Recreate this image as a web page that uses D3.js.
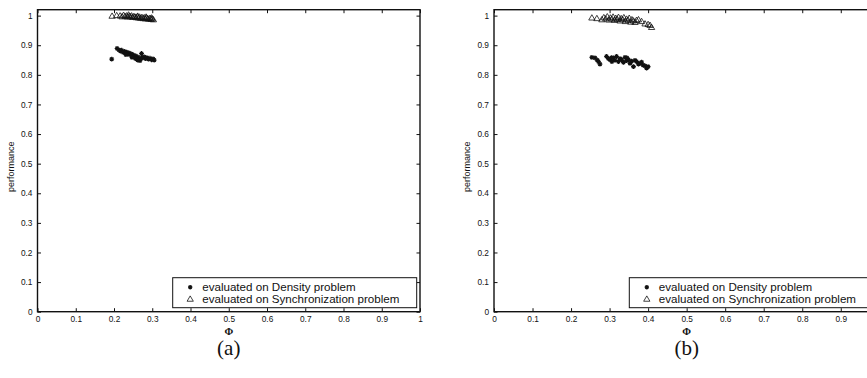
<!DOCTYPE html>
<html>
<head>
<meta charset="utf-8">
<script src="https://cdn.jsdelivr.net/npm/d3@7"></script>
<style>
  html, body { margin: 0; padding: 0; background: #fff; }
  svg { display: block; }
</style>
</head>
<body>
<svg id="chart" width="867" height="378"></svg>
<script>
// Φ vs performance, panel (a)
const densityA = [
  [0.194,0.853],[0.208,0.889],[0.213,0.884],[0.217,0.880],[0.220,0.883],[0.224,0.876],
  [0.227,0.879],[0.230,0.873],[0.233,0.877],[0.236,0.870],[0.239,0.874],[0.242,0.868],
  [0.245,0.871],[0.248,0.864],[0.251,0.867],[0.254,0.861],[0.257,0.864],[0.260,0.857],
  [0.263,0.860],[0.266,0.852],[0.268,0.848],[0.272,0.872],[0.275,0.858],[0.279,0.861],
  [0.282,0.855],[0.286,0.858],[0.290,0.853],[0.294,0.856],[0.298,0.851],[0.302,0.854],
  [0.305,0.850],[0.256,0.855],[0.262,0.850],[0.231,0.868],[0.247,0.859],[0.270,0.856]
];
const syncA = [
  [0.195,0.998],[0.207,1.000],[0.216,0.999],[0.221,0.996],[0.225,1.001],[0.229,0.997],
  [0.233,0.999],[0.236,0.995],[0.240,0.998],[0.243,0.996],[0.246,0.999],[0.249,0.994],
  [0.252,0.997],[0.255,0.995],[0.258,0.993],[0.261,0.996],[0.264,0.992],[0.267,0.995],
  [0.270,0.991],[0.273,0.994],[0.276,0.990],[0.279,0.993],[0.282,0.989],[0.285,0.992],
  [0.288,0.990],[0.291,0.988],[0.294,0.991],[0.297,0.987],[0.300,0.989],[0.303,0.986],
  [0.238,1.002],[0.262,0.998],[0.284,0.995],[0.298,0.992]
];

// Φ vs performance, panel (b)
const densityB = [
  [0.254,0.859],[0.262,0.857],[0.268,0.850],[0.271,0.845],[0.275,0.836],[0.292,0.862],
  [0.297,0.855],[0.301,0.851],[0.305,0.858],[0.310,0.857],[0.314,0.849],[0.318,0.862],
  [0.323,0.845],[0.327,0.855],[0.331,0.851],[0.336,0.842],[0.340,0.859],[0.344,0.848],
  [0.349,0.851],[0.353,0.839],[0.357,0.846],[0.362,0.828],[0.366,0.849],[0.370,0.845],
  [0.375,0.836],[0.379,0.839],[0.383,0.843],[0.387,0.833],[0.392,0.830],[0.396,0.823],
  [0.400,0.828],[0.345,0.857],[0.306,0.845]
];
const syncB = [
  [0.254,0.992],[0.267,0.990],[0.280,0.986],[0.285,0.993],[0.290,0.989],[0.294,0.996],
  [0.298,0.985],[0.302,0.992],[0.306,0.988],[0.309,0.995],[0.313,0.984],[0.316,0.991],
  [0.320,0.987],[0.323,0.994],[0.327,0.982],[0.330,0.990],[0.334,0.986],[0.337,0.993],
  [0.341,0.980],[0.344,0.988],[0.348,0.984],[0.351,0.991],[0.355,0.978],[0.358,0.986],
  [0.362,0.982],[0.366,0.977],[0.370,0.984],[0.375,0.986],[0.383,0.980],[0.392,0.972],
  [0.400,0.970],[0.405,0.967],[0.409,0.960]
];

const xTicks = [0, 0.1, 0.2, 0.3, 0.4, 0.5, 0.6, 0.7, 0.8, 0.9, 1];
const yTicks = [0, 0.1, 0.2, 0.3, 0.4, 0.5, 0.6, 0.7, 0.8, 0.9, 1];
const legendLabels = ["evaluated on Density problem", "evaluated on Synchronization problem"];
const xLabel = "Φ";
const yLabel = "performance";
const captions = ["(a)", "(b)"];

const W = 867;
const svg = d3.select("#chart");
const SANS = "'Liberation Sans', Arial, Helvetica, sans-serif";
const SERIF = "'Liberation Serif', 'Times New Roman', serif";
const INK = "#111";

// MATLAB-style '*' marker
const starPath = (r) => {
  let p = "";
  for (let k = 0; k < 4; k++) {
    const a = k * Math.PI / 4;
    const dx = r * Math.cos(a), dy = r * Math.sin(a);
    p += `M${-dx},${-dy}L${dx},${dy}`;
  }
  return p;
};
const triPath = (r) => `M0,${-r}L${r * 0.95},${r * 0.62}L${-r * 0.95},${r * 0.62}Z`;

function drawPanel(cfg) {
  const x = d3.scaleLinear().domain([0, 1]).range([cfg.left, cfg.right]);
  const y = d3.scaleLinear().domain([0, 1.02]).range([cfg.bottom, cfg.top]);
  const g = svg.append("g");

  // tick marks pointing inward on all four sides
  const tl = 3.5;
  const axB = d3.axisBottom(x).tickValues(xTicks).tickSize(-tl).tickFormat(d => d3.format("")(d));
  const axT = d3.axisTop(x).tickValues(xTicks).tickSize(-tl).tickFormat("");
  const axL = d3.axisLeft(y).tickValues(yTicks).tickSize(-tl).tickFormat(d => d3.format("")(d));
  const axR = d3.axisRight(y).tickValues(yTicks).tickSize(-tl).tickFormat("");

  const styleAxis = (sel) => {
    sel.select(".domain").remove();
    sel.selectAll(".tick line").attr("stroke", INK).attr("stroke-width", 1);
    sel.selectAll(".tick text").attr("font-family", SANS).attr("font-size", 8.3).attr("fill", INK);
  };
  const gb = g.append("g").attr("transform", `translate(0,${cfg.bottom})`).call(axB);
  styleAxis(gb);
  gb.selectAll(".tick text").attr("y", 4).attr("dy", "0.71em");
  // labels whose tick lies past the page edge are not drawn
  gb.selectAll(".tick").filter(d => x(d) > W).select("text").remove();
  const gt = g.append("g").attr("transform", `translate(0,${cfg.top})`).call(axT);
  styleAxis(gt);
  const gl = g.append("g").attr("transform", `translate(${cfg.left},0)`).call(axL);
  styleAxis(gl);
  gl.selectAll(".tick text").attr("x", -5);
  const gr = g.append("g").attr("transform", `translate(${cfg.right},0)`).call(axR);
  styleAxis(gr);

  // box
  g.append("rect")
    .attr("x", cfg.left).attr("y", cfg.top)
    .attr("width", cfg.right - cfg.left).attr("height", cfg.bottom - cfg.top)
    .attr("fill", "none").attr("stroke", INK).attr("stroke-width", 1.4);

  // data
  g.append("g").selectAll("path").data(cfg.sync).join("path")
    .attr("d", triPath(3.3))
    .attr("transform", d => `translate(${x(d[0])},${y(d[1])})`)
    .attr("fill", "none").attr("stroke", INK).attr("stroke-width", 0.8);
  g.append("g").selectAll("path").data(cfg.density).join("path")
    .attr("d", starPath(2.4))
    .attr("transform", d => `translate(${x(d[0])},${y(d[1])})`)
    .attr("fill", "none").attr("stroke", INK).attr("stroke-width", 1.2);

  // axis titles
  g.append("text")
    .attr("x", x(0.5)).attr("y", cfg.bottom + 23.5)
    .attr("text-anchor", "middle")
    .attr("font-family", SERIF).attr("font-size", 10.5).attr("font-weight", "bold").attr("fill", INK)
    .text(xLabel);
  g.append("text")
    .attr("transform", `translate(${cfg.left - 24},${(cfg.top + cfg.bottom) / 2 + 6}) rotate(-90)`)
    .attr("text-anchor", "middle")
    .attr("font-family", SANS).attr("font-size", 9).attr("fill", INK)
    .text(yLabel);

  // legend
  const lg = g.append("g").attr("transform", `translate(${cfg.legendX},${cfg.legendY})`);
  lg.append("rect").attr("x", 0).attr("y", 0).attr("width", 244).attr("height", 30)
    .attr("fill", "#fff").attr("stroke", INK).attr("stroke-width", 1);
  const rows = [
    { label: legendLabels[0], path: starPath(2.2), sw: 1.2 },
    { label: legendLabels[1], path: triPath(3.3), sw: 0.8 }
  ];
  rows.forEach((r, i) => {
    const cy = 9.5 + i * 12;
    lg.append("path").attr("d", r.path)
      .attr("transform", `translate(17.5,${cy})`)
      .attr("fill", "none").attr("stroke", INK).attr("stroke-width", r.sw);
    lg.append("text")
      .attr("x", 29.5).attr("y", cy).attr("dy", "0.36em")
      .attr("font-family", SANS).attr("font-size", 11.6).attr("fill", INK)
      .text(r.label);
  });

  // caption
  g.append("text")
    .attr("x", x(0.5)).attr("y", 355)
    .attr("text-anchor", "middle")
    .attr("font-family", SERIF).attr("font-size", 21).attr("fill", INK)
    .text(cfg.caption);
}

drawPanel({ left: 37.5, right: 420, top: 9.7, bottom: 311.7,
            density: densityA, sync: syncA, legendX: 172.7, legendY: 277.7, caption: captions[0] });
drawPanel({ left: 494, right: 879.3, top: 9.7, bottom: 311.7,
            density: densityB, sync: syncB, legendX: 629.3, legendY: 277.7, caption: captions[1] });
</script>
</body>
</html>
